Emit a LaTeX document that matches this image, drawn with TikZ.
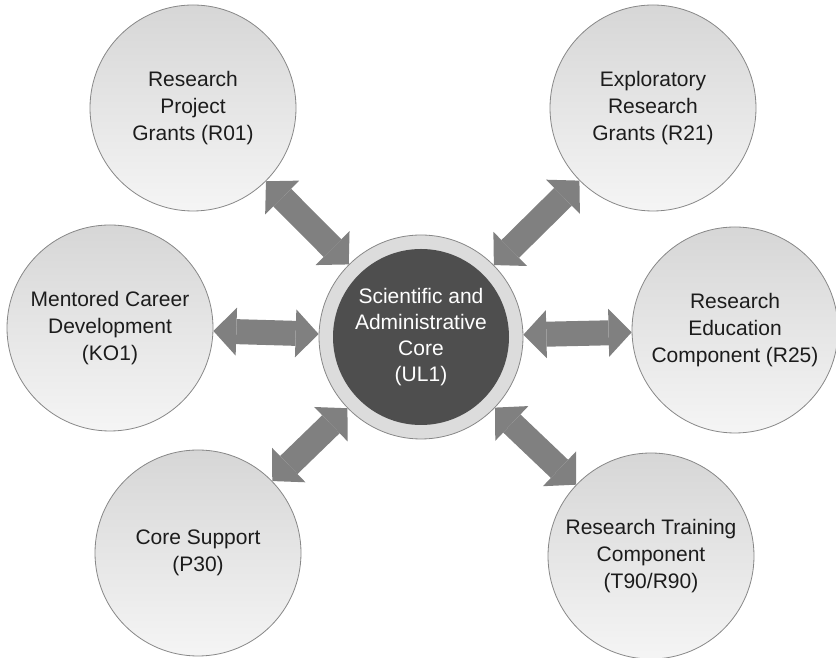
\documentclass[tikz,border=0pt]{standalone}
\usepackage{fontspec}
\setmainfont{Liberation Sans}
\usetikzlibrary{arrows.meta}
\definecolor{ringgray}{RGB}{220,220,220}
\definecolor{coregray}{RGB}{78,78,78}
\definecolor{linkgray}{RGB}{128,128,128}
\definecolor{edgegray}{RGB}{135,135,135}
\definecolor{inkgray}{RGB}{28,28,28}
\tikzset{
  grant/.style={circle, draw=edgegray, line width=0.8pt, minimum size=206pt, inner sep=0pt,
    top color=gray!32, bottom color=gray!8, align=center, text=inkgray,
    font=\fontsize{21}{27}\selectfont},
  corering/.style={circle, draw=edgegray, line width=0.8pt, fill=ringgray, minimum size=204pt},
  coredisc/.style={circle, fill=coregray, minimum size=176pt, inner sep=0pt, align=center,
    text=white, font=\fontsize{21}{26}\selectfont},
  linktip/.tip={Triangle[width=48pt,length=23pt,line width=0pt]},
  link/.style={linkgray, line width=25pt, linktip-linktip}
}
\begin{document}
\begin{tikzpicture}[x=1pt,y=1pt]
  \useasboundingbox (0,0) rectangle (836,658);
	\node[corering] (core) at (421,321) {};
	\node[coredisc] (corecap) at (core) {Scientific and\\Administrative\\Core\\(UL1)};
		\node[grant] (r01) at (193,550) {Research\\Project\\Grants (R01)};
		\node[grant] (r21) at (653,550) {Exploratory\\Research\\Grants (R21)};
		\node[grant] (k01) at (110,330) {Mentored Career\\Development\\(KO1)};
		\node[grant] (r25) at (735,328) {Research\\Education\\Component (R25)};
		\node[grant] (p30) at (198,105) {Core Support\\(P30)};
		\node[grant] (t90) at (651,102) {Research Training\\Component\\(T90/R90)};
			\draw[link] (r01) -- (core);
			\draw[link] (r21) -- (core);
			\draw[link] (k01) -- (core);
			\draw[link] (r25) -- (core);
			\draw[link] (p30) -- (core);
			\draw[link] (t90) -- (core);
\end{tikzpicture}
\end{document}
